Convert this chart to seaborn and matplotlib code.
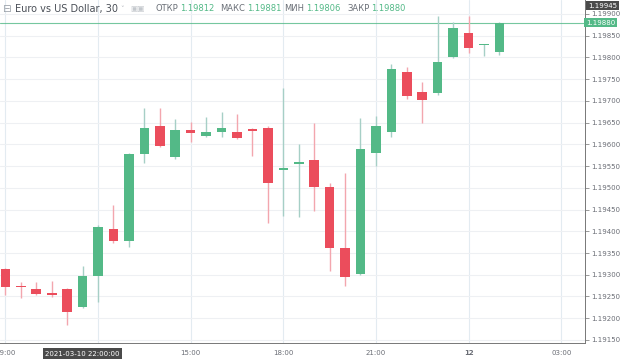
import numpy as np
import pandas as pd
import matplotlib.pyplot as plt
import seaborn as sns

# ================= DATOS (velas de 30 min, EUR/USD) =================
# 09:00 del día 11 hasta 01:00 del día 12
opens = [1.19313, 1.19273, 1.19267, 1.19258, 1.19267, 1.19226, 1.19297, 1.19405,
         1.19378, 1.19578, 1.19642, 1.19571, 1.19633, 1.19619, 1.19628, 1.19628,
         1.19635, 1.19638, 1.19541, 1.19555, 1.19564, 1.19502, 1.19362, 1.19302,
         1.19580, 1.19628, 1.19767, 1.19721, 1.19718, 1.19801, 1.19856, 1.19828,
         1.19812]
highs = [1.19315, 1.19283, 1.19283, 1.19286, 1.19270, 1.19320, 1.19414, 1.19461,
         1.19580, 1.19684, 1.19684, 1.19658, 1.19651, 1.19663, 1.19675, 1.19670,
         1.19637, 1.19642, 1.19730, 1.19601, 1.19649, 1.19511, 1.19533, 1.19661,
         1.19665, 1.19785, 1.19778, 1.19744, 1.19895, 1.19882, 1.19895, 1.19831,
         1.19881]
lows = [1.19253, 1.19247, 1.19253, 1.19249, 1.19184, 1.19224, 1.19237, 1.19373,
        1.19364, 1.19557, 1.19594, 1.19566, 1.19605, 1.19617, 1.19617, 1.19613,
        1.19573, 1.19419, 1.19435, 1.19433, 1.19447, 1.19309, 1.19274, 1.19300,
        1.19550, 1.19617, 1.19704, 1.19649, 1.19714, 1.19799, 1.19810, 1.19803,
        1.19806]
closes = [1.19272, 1.19271, 1.19256, 1.19253, 1.19214, 1.19297, 1.19410, 1.19378,
          1.19578, 1.19638, 1.19596, 1.19633, 1.19626, 1.19628, 1.19638, 1.19615,
          1.19630, 1.19511, 1.19544, 1.19558, 1.19502, 1.19362, 1.19295, 1.19589,
          1.19642, 1.19773, 1.19711, 1.19702, 1.19790, 1.19868, 1.19822, 1.19830,
          1.19880]

x_ticks = [0, 6, 12, 18, 24, 30, 36]
x_labels = ['09:00', '', '15:00', '18:00', '21:00', '12', '03:00']
y_ticks = [1.1915, 1.1920, 1.1925, 1.1930, 1.1935, 1.1940, 1.1945, 1.1950,
           1.1955, 1.1960, 1.1965, 1.1970, 1.1975, 1.1980, 1.1985, 1.1990]

df = pd.DataFrame({'open': opens, 'high': highs, 'low': lows, 'close': closes})
df['idx'] = np.arange(len(df))
df['sube'] = df['close'] >= df['open']

# ================= COLORES =================
verde = '#53b987'
rojo = '#eb4d5c'
mecha_verde = '#a6cfc6'
mecha_rojo = '#f3a6ae'
gris_txt = '#6a6d75'

sns.set_style('white')
plt.rcParams['font.family'] = ['DejaVu Sans']

fig = plt.figure(figsize=(6.2, 3.59), dpi=100)
fig.patch.set_facecolor('white')
ax = fig.add_axes([0.0, 0.0446, 0.9435, 0.9554])

# mechas
for sube, col in [(True, mecha_verde), (False, mecha_rojo)]:
    d = df[df['sube'] == sube]
    ax.vlines(d['idx'], d['low'], d['high'], color=col, linewidth=1.0, zorder=3)

# cuerpos
alto = (df['close'] - df['open']).abs().clip(lower=0.000035)
base = df[['open', 'close']].min(axis=1)
colores = [verde if s else rojo for s in df['sube']]
ax.bar(df['idx'], alto, bottom=base, width=0.62, color=colores,
       edgecolor='none', zorder=4)

# línea del último precio
ultimo = closes[-1]
ax.axhline(ultimo, color=verde, linewidth=0.8, alpha=0.8, zorder=2)

# ejes
ax.set_xlim(-0.35, 37.54)
ax.set_ylim(1.19143, 1.19932)
ax.set_xticks(x_ticks)
ax.set_xticklabels(x_labels)
ax.set_yticks(y_ticks)
ax.set_yticklabels([f'{v:.5f}' for v in y_ticks])
ax.yaxis.tick_right()
ax.tick_params(axis='y', labelsize=5, colors='#888888', labelcolor=gris_txt,
               length=3, width=0.6, pad=1.5)
ax.tick_params(axis='x', labelsize=5, colors='#888888', labelcolor=gris_txt,
               length=3, width=0.6, pad=2)
for lbl in ax.get_xticklabels():
    if lbl.get_text() == '12':
        lbl.set_fontweight('bold')

ax.grid(True, axis='y', color='#eef0f3', linewidth=0.8, zorder=0)
ax.grid(True, axis='x', color='#e3ebf1', linewidth=0.8, zorder=0)
for s in ['top', 'left']:
    ax.spines[s].set_visible(False)
for s in ['right', 'bottom']:
    ax.spines[s].set_color('#777777')
    ax.spines[s].set_linewidth(0.7)

# etiquetas de precio en el eje derecho
ax.text(1.002, ultimo, f'{ultimo:.5f}', transform=ax.get_yaxis_transform(),
        fontsize=5, color='white', va='center', ha='left', zorder=6,
        bbox=dict(boxstyle='square,pad=0.25', fc=verde, ec='none'),
        clip_on=False)
fig.text(0.9485, 0.993, '1.19945', fontsize=5, color='white', va='top', ha='left',
         bbox=dict(boxstyle='square,pad=0.25', fc='#4a4a4a', ec='none'))

# etiqueta de fecha del cursor
ax.text(5.0, -0.022, '2021-03-10 22:00:00', transform=ax.get_xaxis_transform(),
        fontsize=5, color='white', va='top', ha='center', clip_on=False,
        bbox=dict(boxstyle='square,pad=0.35', fc='#4a4a4a', ec='none'))

# cabecera
fig.text(0.004, 0.975, '⊟', fontsize=7.5, color='#9aa0a8', va='center', ha='left')
fig.text(0.024, 0.975, 'Euro vs US Dollar, 30', fontsize=7, color='#4a4f57',
         va='center', ha='left')
fig.text(0.194, 0.975, '˅', fontsize=5, color='#b0b4ba', va='center', ha='left')
fig.text(0.21, 0.975, '▣▣', fontsize=5.5, color='#c4c8cd', va='center', ha='left')
campos = [('ОТКР', '1.19812', 0.25), ('МАКС', '1.19881', 0.355),
          ('МИН', '1.19806', 0.458), ('ЗАКР', '1.19880', 0.56)]
for nombre, valor, xpos in campos:
    t = fig.text(xpos, 0.975, nombre, fontsize=6, color='#6a6f77',
                 va='center', ha='left')
    fig.canvas.draw()
    bb = t.get_window_extent()
    fig.text((bb.x1 + 2) / fig.bbox.width, 0.975, valor, fontsize=6,
             color=verde, va='center', ha='left')

plt.savefig('out.png', dpi=100)
